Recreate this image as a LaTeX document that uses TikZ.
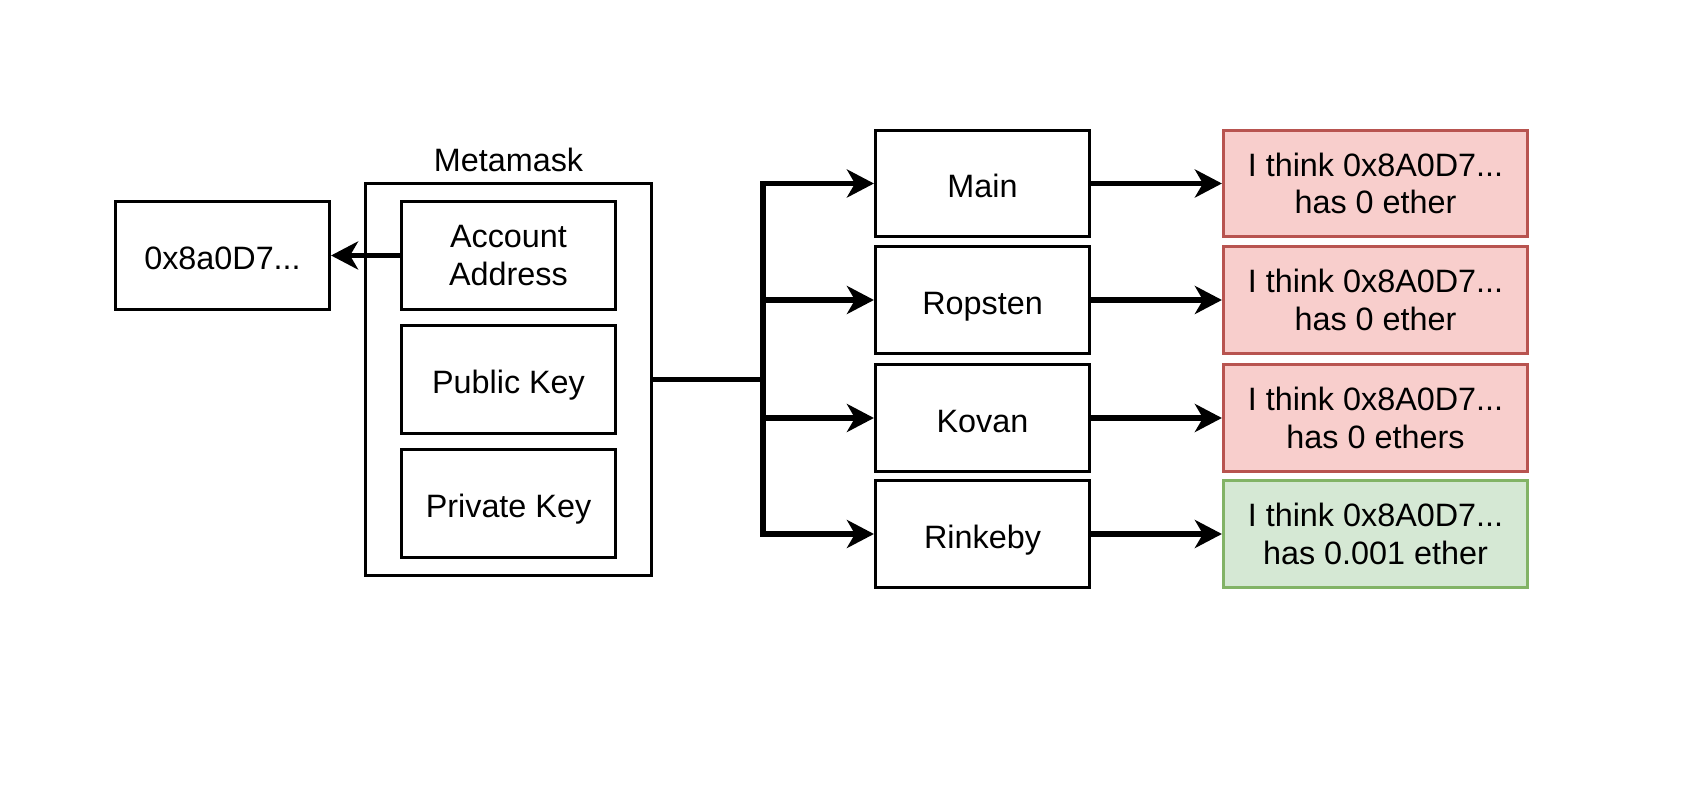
\documentclass[tikz,border=0pt]{standalone}
\usepackage{fontspec}
\setmainfont{Liberation Sans}
\usetikzlibrary{arrows.meta}
\definecolor{badfill}{HTML}{F8CECC}
\definecolor{baddraw}{HTML}{B85450}
\definecolor{goodfill}{HTML}{D5E8D4}
\definecolor{gooddraw}{HTML}{82B366}
\begin{document}
\begin{tikzpicture}[x=0.01cm,y=-0.01cm,
    every node/.style={font=\fontsize{9.2}{10.7}\selectfont},
    box/.style={draw,line width=0.85pt,inner sep=0pt,align=center,
      minimum width=2.14cm,minimum height=1.08cm,
      execute at begin node={\rule{0pt}{8.2pt}}},
    flat/.style={text depth=0pt},
    netbox/.style={box,flat,minimum height=1.06cm},
    result/.style={box,minimum width=3.04cm,minimum height=1.06cm},
    bad/.style={result,fill=badfill,draw=baddraw},
    good/.style={result,fill=goodfill,draw=gooddraw},
    link/.style={line width=1.5pt,-{Stealth[length=2.7mm,width=2.8mm,inset=0.8mm]}}]
    \useasboundingbox (0,0) rectangle (1682,810);
    % metamask and its keys
    \node[draw,line width=0.85pt,minimum width=2.86cm,minimum height=3.92cm] (mm) at (508.5,379.5) {};
    \node (mmlabel) at (508.5,159.5) {Metamask};
    \node[box] (acct) at (508.5,255.5) {Account\\Address};
    \node[box,flat] (pub) at (508.5,379.5) {Public Key};
    \node[box,flat] (priv) at (508.5,503.5) {Private Key};
    \node[box,flat] (addr) at (222.5,255.5) {0x8a0D7...};
    \draw[link] (acct.west) -- (addr.east);
    % networks
    \node[netbox] (main) at (982.5,183.5) {Main};
    \node[netbox] (ropsten) at (982.5,300) {Ropsten};
    \node[netbox] (kovan) at (982.5,418) {Kovan};
    \node[netbox] (rinkeby) at (982.5,534) {Rinkeby};
    \node[bad] (rmain) at (1375.5,183.5) {I think 0x8A0D7...\\has 0 ether};
    \node[bad] (rropsten) at (1375.5,300) {I think 0x8A0D7...\\has 0 ether};
    \node[bad] (rkovan) at (1375.5,418) {I think 0x8A0D7...\\has 0 ethers};
    \node[good] (rrinkeby) at (1375.5,534) {I think 0x8A0D7...\\has 0.001 ether};
    \coordinate (split) at (763,379.5);
    \draw[line width=1.5pt] (mm.east) -- (split);
    \foreach \n in {main,ropsten,kovan,rinkeby} {
      \draw[link] (split) |- (\n.west);
      \draw[link] (\n.east) -- (r\n.west);
    }
\end{tikzpicture}
\end{document}
